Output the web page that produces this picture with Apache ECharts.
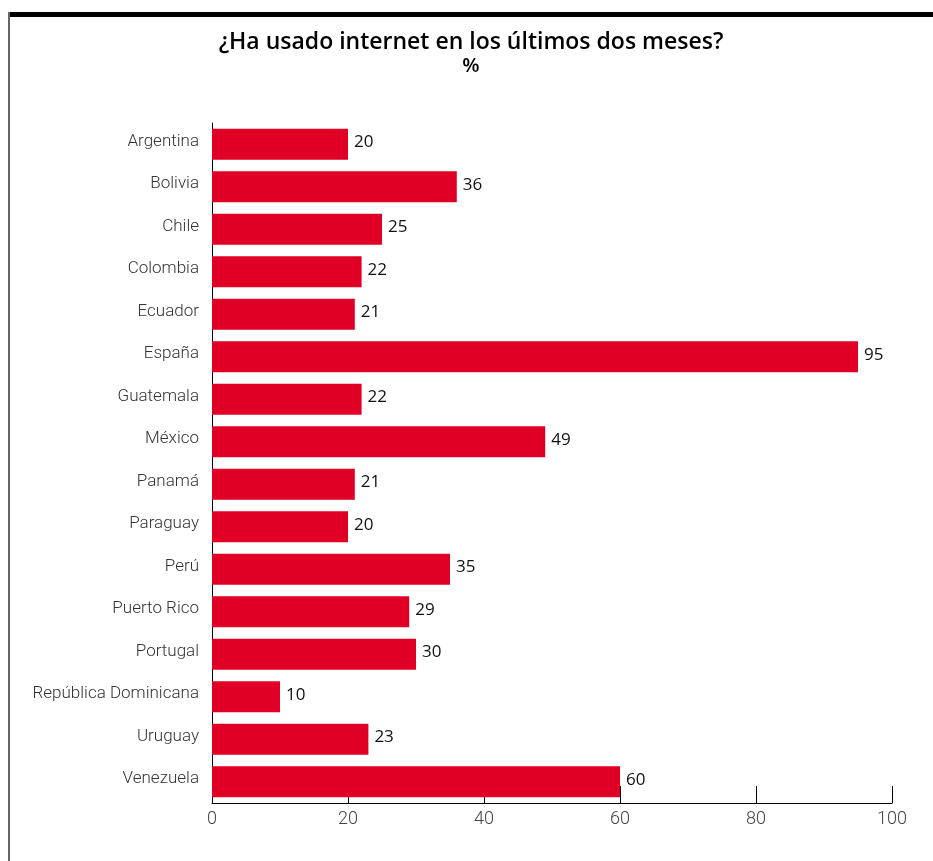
<!DOCTYPE html>
<html><head><meta charset="utf-8">
<script src="https://cdn.jsdelivr.net/npm/echarts@6/dist/echarts.min.js"></script>
<style>html,body{margin:0;padding:0;background:#fff}#c{width:933px;height:861px}</style>
</head><body><div id="c"></div>
<script>
const categories = ["Argentina","Bolivia","Chile","Colombia","Ecuador","España","Guatemala","México","Panamá","Paraguay","Perú","Puerto Rico","Portugal","República Dominicana","Uruguay","Venezuela"];
const values = [20,36,25,22,21,95,22,49,21,20,35,29,30,10,23,60];
const xTicks = [0,20,40,60,80,100];
const titleText = "¿Ha usado internet en los últimos dos meses?";
const subText = "%";

const chart = echarts.init(document.getElementById('c'), null, {renderer:'canvas'});
chart.setOption({
  animation:false,
  backgroundColor:'#fff',
  title:{
    text:titleText, subtext:subText, top:26, itemGap:2,
    textStyle:{fontFamily:'Open Sans', fontWeight:600, fontSize:23, color:'#000'},
    subtextStyle:{fontFamily:'Open Sans', fontWeight:600, fontSize:20, color:'#000'},
    left:466, textAlign:'center'
  },
  graphic:[
    {type:'rect', shape:{x:8,y:12,width:925,height:5}, style:{fill:'#000'}},
    {type:'line', shape:{x1:9,y1:12,x2:9,y2:861}, style:{stroke:'#666',lineWidth:2}}
  ],
  grid:{left:212, right:41, top:123, bottom:58, containLabel:false},
  xAxis:{
    type:'value', min:0, max:100, interval:20,
    axisLine:{show:true, lineStyle:{color:'#000', width:1}},
    axisTick:{show:true, inside:true, length:17, lineStyle:{color:'#000'}},
    splitLine:{show:false},
    axisLabel:{color:'#444', fontFamily:'Roboto', fontWeight:300, fontSize:18, margin:7,
      formatter:v=>xTicks.includes(v)?String(v):''}
  },
  yAxis:{
    type:'category', data:categories, inverse:true,
    axisLine:{show:true, lineStyle:{color:'#000', width:1}},
    axisTick:{show:false},
    axisLabel:{margin:13,
      formatter:v=>'{a|'+v+'}',
      rich:{a:{color:'#333', fontFamily:'Roboto', fontWeight:300, fontSize:17, padding:[0,0,6,0]}}}
  },
  series:[{
    type:'bar', data:values, barWidth:31,
    itemStyle:{color:'#e00025'},
    label:{show:true, position:'right', distance:6, offset:[0,-2], color:'#111', fontFamily:'Open Sans', fontSize:17}
  }]
});
</script></body></html>
